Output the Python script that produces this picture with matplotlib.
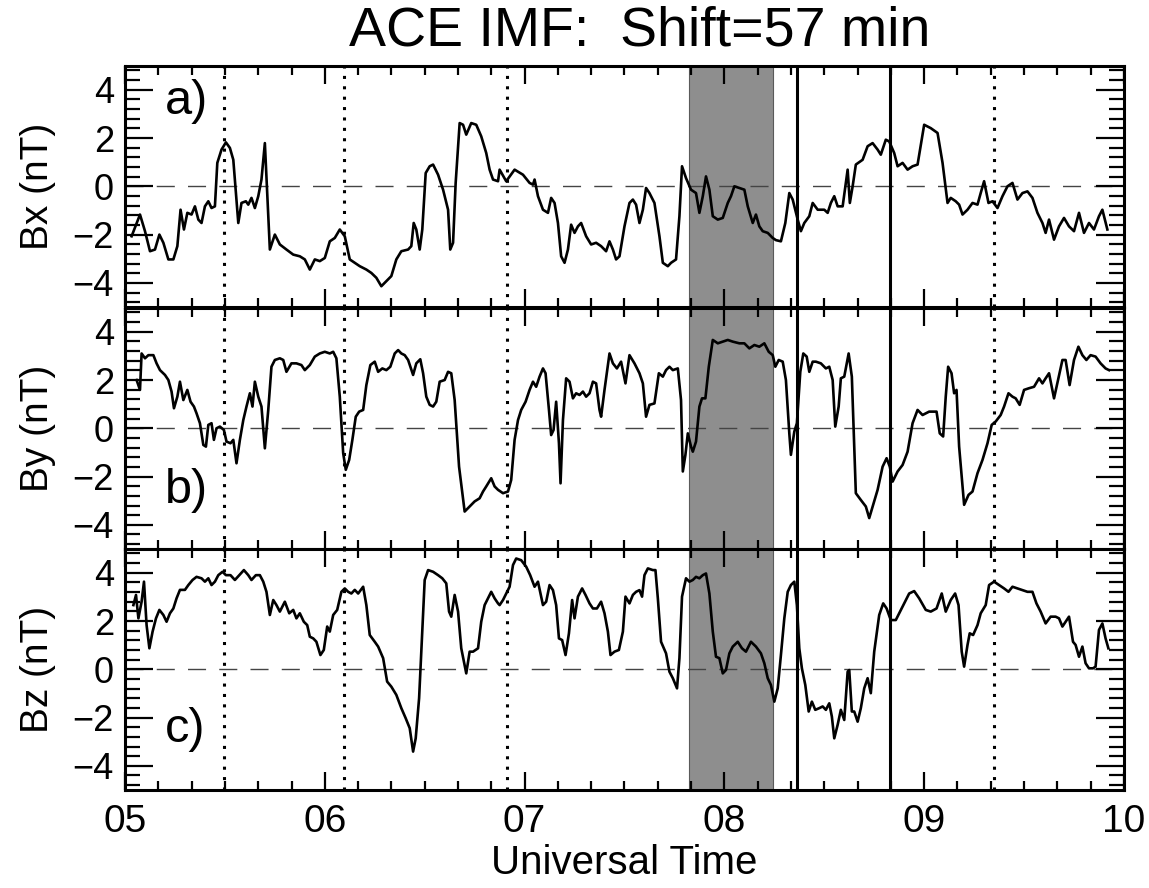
import numpy as np
import matplotlib
matplotlib.use('Agg')
import matplotlib.pyplot as plt
from matplotlib.ticker import MultipleLocator, AutoMinorLocator, FuncFormatter

plt.rcParams['font.family'] = ['Liberation Sans', 'DejaVu Sans']

# times are in hours UT, field values in nT
bx_time = [5.033, 5.075, 5.100, 5.125, 5.150, 5.172, 5.192, 5.217, 5.242, 5.262, 5.278, 5.295, 5.312, 5.333, 5.350,
           5.367, 5.383, 5.400, 5.417, 5.433, 5.450, 5.462, 5.483, 5.505, 5.525, 5.542, 5.567, 5.583, 5.605, 5.617,
           5.633, 5.650, 5.667, 5.683, 5.700, 5.725, 5.750, 5.775, 5.808, 5.842, 5.875, 5.900, 5.925, 5.950, 5.975,
           6.000, 6.025, 6.050, 6.075, 6.100, 6.125, 6.150, 6.175, 6.208, 6.233, 6.258, 6.283, 6.308, 6.333, 6.358,
           6.383, 6.417, 6.433, 6.445, 6.458, 6.475, 6.488, 6.505, 6.525, 6.542, 6.567, 6.592, 6.617, 6.628, 6.642,
           6.655, 6.675, 6.692, 6.708, 6.733, 6.758, 6.783, 6.808, 6.825, 6.842, 6.867,
           6.875, 6.908, 6.950, 6.992, 7.025, 7.042, 7.050, 7.067, 7.092, 7.117, 7.133, 7.150, 7.167, 7.183, 7.200,
           7.217, 7.233, 7.250, 7.267, 7.283, 7.308, 7.333, 7.358, 7.383, 7.408, 7.425, 7.442, 7.458, 7.475, 7.500,
           7.525, 7.542, 7.558, 7.575, 7.592, 7.608, 7.625, 7.650, 7.675, 7.692, 7.717, 7.733, 7.758, 7.775, 7.788,
           7.808, 7.833, 7.858, 7.875, 7.892, 7.908, 7.925, 7.942, 7.967, 7.992, 8.017, 8.033, 8.050, 8.075, 8.100,
           8.117, 8.142, 8.158, 8.175, 8.192, 8.217, 8.242, 8.258, 8.283, 8.305, 8.325, 8.342, 8.367, 8.383, 8.400,
           8.425, 8.442, 8.467, 8.500, 8.517, 8.533, 8.550, 8.567, 8.592, 8.617, 8.628, 8.642, 8.658, 8.692, 8.717,
           8.742, 8.767, 8.783, 8.808, 8.825, 8.850, 8.867,
           8.892, 8.917, 8.942, 8.967, 9.000, 9.033, 9.067, 9.092, 9.117, 9.133, 9.158, 9.175, 9.192, 9.217, 9.242,
           9.267, 9.283, 9.300, 9.322, 9.342, 9.367, 9.392, 9.417, 9.442, 9.467, 9.492, 9.517, 9.542, 9.567, 9.592,
           9.608, 9.625, 9.650, 9.675, 9.700, 9.725, 9.750, 9.775, 9.800, 9.825, 9.850, 9.875, 9.892, 9.917]
bx_vals = [-2.07, -1.17, -1.86, -2.69, -2.62, -2.00, -2.34, -3.03, -3.03, -2.48, -0.97, -1.79, -1.10, -1.17, -0.83,
           -1.38, -1.52, -0.83, -0.62, -0.90, -0.83, 0.97, 1.52, 1.82, 1.59, 1.10, -1.52, -0.69, -0.62, -0.76,
           -0.48, -0.90, -0.41, 0.28, 1.79, -2.62, -2.00, -2.41, -2.62, -2.83, -2.90, -3.03, -3.45, -3.03, -3.10,
           -2.97, -2.28, -2.14, -1.79, -2.07, -3.03, -3.17, -3.31, -3.45, -3.59, -3.79, -4.14, -3.93, -3.72, -3.03,
           -2.69, -2.62, -2.48, -1.52, -1.79, -2.62, -1.79, 0.55, 0.83, 0.90, 0.48, -0.14, -0.97, -2.62, -2.34,
           0.14, 2.62, 2.55, 2.14, 2.62, 2.55, 2.07, 1.38, 0.69, 0.28, 0.21,
           0.69, 0.21, 0.69, 0.48, 0.14, 0.07, 0.28, -0.41, -0.97, -1.10, -0.48, -0.69, -1.52, -2.90, -3.17,
           -2.62, -1.59, -1.93, -1.66, -1.52, -2.07, -2.41, -2.34, -2.48, -2.69, -2.28, -2.62, -3.03, -2.90, -1.66,
           -0.69, -0.55, -0.76, -1.52, -0.97, -0.07, -0.28, -0.69, -2.07, -3.17, -3.31, -3.17, -3.03, -1.24, 0.83,
           0.34, -0.14, -0.28, -1.10, -0.41, 0.41, -0.14, -1.24, -1.38, -1.31, -0.69, -0.41, 0.00, -0.07, -0.14,
           -0.83, -1.52, -1.17, -1.66, -1.86, -1.93, -2.14, -2.23, -2.28, -1.52, -0.28, -0.55, -1.38, -1.86, -1.52,
           -1.24, -0.69, -0.97, -0.97, -1.10, -0.69, -0.41, -0.83, -0.83, 0.69, -0.69, 0.00, 0.90, 1.10, 1.66,
           1.79, 1.52, 1.31, 1.93, 1.86, 1.38, 0.83,
           0.97, 0.69, 0.83, 0.90, 2.55, 2.41, 2.21, 0.97, -0.69, -0.48, -0.62, -0.76, -1.17, -0.97, -0.69,
           -0.76, -0.28, 0.21, -0.69, -0.62, -0.90, -0.41, 0.00, 0.14, -0.55, -0.28, -0.21, -0.48, -1.10, -1.52,
           -1.93, -1.38, -2.21, -1.66, -1.31, -1.66, -1.86, -1.10, -1.93, -1.52, -1.79, -1.24, -0.97, -1.79]

by_time = [5.058, 5.075, 5.083, 5.100, 5.117, 5.142, 5.158, 5.175, 5.200, 5.217, 5.233, 5.245, 5.262, 5.275, 5.292,
           5.312, 5.328, 5.345, 5.358, 5.375, 5.392, 5.405, 5.417, 5.433, 5.445, 5.458, 5.475, 5.495, 5.508, 5.528,
           5.542, 5.558, 5.575, 5.592, 5.608, 5.625, 5.638, 5.650, 5.667, 5.683, 5.700, 5.717, 5.733, 5.750, 5.775,
           5.792, 5.808, 5.833, 5.858, 5.883, 5.900, 5.925, 5.950, 5.975, 6.000, 6.025, 6.042, 6.058, 6.075, 6.092,
           6.105, 6.122, 6.138, 6.155, 6.172, 6.192, 6.208, 6.228, 6.250, 6.267, 6.288, 6.308, 6.328, 6.350, 6.367,
           6.383, 6.400, 6.417, 6.442, 6.458, 6.478, 6.492, 6.508, 6.525, 6.542, 6.558, 6.575, 6.600, 6.617, 6.633,
           6.650, 6.672, 6.700, 6.725, 6.750, 6.775, 6.792, 6.808, 6.833, 6.850, 6.867,
           6.892, 6.917, 6.933, 6.950, 6.967, 6.983, 7.005, 7.025, 7.042, 7.058, 7.075, 7.092, 7.105, 7.122, 7.133,
           7.145, 7.158, 7.172, 7.180, 7.192, 7.208, 7.225, 7.242, 7.258, 7.275, 7.292, 7.308, 7.325, 7.342, 7.358,
           7.375, 7.383, 7.400, 7.425, 7.442, 7.462, 7.483, 7.505, 7.525, 7.550, 7.575, 7.592, 7.608, 7.625, 7.650,
           7.672, 7.692, 7.708, 7.725, 7.742, 7.767, 7.783, 7.792, 7.805, 7.817, 7.833, 7.842, 7.858, 7.875, 7.888,
           7.905, 7.922, 7.942, 7.967, 7.992, 8.017, 8.042, 8.075, 8.100, 8.125, 8.150, 8.175, 8.200, 8.222, 8.242,
           8.255, 8.272, 8.292, 8.308, 8.325, 8.333, 8.350, 8.363, 8.380, 8.395, 8.412, 8.425, 8.442, 8.458, 8.483,
           8.508, 8.525, 8.542, 8.555, 8.572, 8.583, 8.600, 8.622, 8.638, 8.658, 8.683, 8.708, 8.725, 8.742, 8.767,
           8.792, 8.812, 8.828, 8.842, 8.867,
           8.892, 8.917, 8.942, 8.967, 8.992, 9.025, 9.062, 9.078, 9.095, 9.108, 9.120, 9.137, 9.150, 9.162, 9.175,
           9.200, 9.222, 9.242, 9.267, 9.292, 9.317, 9.338, 9.358, 9.383, 9.400, 9.422, 9.442, 9.458, 9.478, 9.500,
           9.525, 9.550, 9.575, 9.592, 9.608, 9.625, 9.650, 9.672, 9.692, 9.708, 9.728, 9.750, 9.772, 9.792, 9.812,
           9.833, 9.858, 9.883, 9.908, 9.925]
by_vals = [2.00, 1.59, 3.10, 2.90, 3.03, 3.03, 2.69, 2.41, 2.21, 2.00, 1.52, 0.83, 1.31, 1.93, 1.17,
           1.59, 1.10, 0.90, 0.62, 0.21, -0.69, -0.76, 0.14, 0.21, -0.48, 0.00, 0.07, -0.07, -0.55, -0.62,
           -0.48, -1.45, -0.48, 0.34, 0.90, 1.45, 0.90, 1.93, 1.31, 0.90, -0.83, 0.76, 2.55, 2.83, 2.90,
           2.83, 2.34, 2.69, 2.69, 2.62, 2.41, 2.62, 2.97, 3.10, 3.17, 3.10, 3.17, 2.90, 1.31, -1.03,
           -1.72, -1.31, -0.48, 0.48, 0.69, 0.76, 1.79, 2.62, 2.76, 2.34, 2.48, 2.41, 2.55, 3.10, 3.24,
           3.10, 3.03, 2.83, 2.21, 2.69, 2.86, 2.28, 1.31, 0.97, 0.90, 1.10, 1.93, 2.00, 2.34, 2.28,
           1.17, -1.59, -3.45, -3.24, -3.03, -2.90, -2.62, -2.41, -2.07, -2.41, -2.55,
           -2.69, -2.62, -2.14, -0.48, 0.34, 0.76, 1.10, 1.59, 1.93, 1.72, 2.14, 2.48, 2.28, 0.76, -0.28,
           -0.07, 1.10, -0.62, -2.28, 0.34, 2.07, 1.93, 1.24, 1.45, 1.38, 1.52, 1.31, 1.45, 1.93, 1.86,
           0.76, 0.48, 1.59, 3.10, 2.69, 2.48, 2.76, 1.86, 3.03, 2.69, 2.28, 1.86, 0.48, 0.97, 1.03,
           2.28, 2.14, 2.41, 2.55, 2.41, 2.48, 1.17, -1.79, -1.10, -0.21, -0.76, -0.97, -0.55, 0.90, 1.24,
           1.24, 2.55, 3.66, 3.52, 3.59, 3.66, 3.59, 3.52, 3.52, 3.31, 3.45, 3.38, 3.52, 3.17, 3.03,
           2.55, 2.83, 2.76, 2.00, -0.21, -1.10, -0.14, 0.21, 2.34, 3.10, 2.97, 2.34, 2.76, 2.76, 2.69,
           2.48, 2.55, 2.00, 0.07, 0.90, 2.07, 2.14, 3.10, 2.14, -2.69, -2.97, -3.24, -3.72, -3.24, -2.55,
           -1.59, -1.24, -1.59, -2.21, -1.79,
           -1.52, -0.97, 0.21, 0.76, 0.55, 0.69, 0.69, -0.21, -0.34, 1.31, 2.55, 2.28, 1.45, 1.59, -0.76,
           -3.17, -2.76, -2.62, -1.86, -1.31, -0.62, 0.14, 0.28, 0.55, 0.90, 1.45, 1.31, 1.24, 0.97, 1.59,
           1.66, 1.72, 2.07, 1.86, 2.07, 2.28, 1.24, 2.07, 2.83, 2.83, 1.79, 2.83, 3.38, 3.03, 2.83,
           3.03, 2.97, 2.69, 2.48, 2.41]

bz_time = [5.042, 5.055, 5.067, 5.083, 5.095, 5.108, 5.122, 5.138, 5.155, 5.172, 5.192, 5.208, 5.225, 5.242, 5.258,
           5.275, 5.300, 5.317, 5.338, 5.358, 5.383, 5.400, 5.417, 5.433, 5.450, 5.467, 5.488, 5.505, 5.528, 5.550,
           5.572, 5.595, 5.617, 5.633, 5.655, 5.675, 5.692, 5.708, 5.725, 5.742, 5.758, 5.775, 5.800, 5.822, 5.842,
           5.858, 5.875, 5.895, 5.912, 5.925, 5.942, 5.958, 5.978, 5.995, 6.012, 6.025, 6.042, 6.062, 6.083, 6.100,
           6.117, 6.133, 6.150, 6.167, 6.192, 6.208, 6.225, 6.250, 6.267, 6.292, 6.312, 6.333, 6.358, 6.383, 6.405,
           6.425, 6.442, 6.455, 6.472, 6.488, 6.500, 6.517, 6.542, 6.567, 6.588, 6.608, 6.622, 6.633, 6.650, 6.667,
           6.683, 6.708, 6.725, 6.742, 6.767, 6.783, 6.800, 6.817, 6.833, 6.850, 6.867,
           6.875, 6.892, 6.908, 6.925, 6.942, 6.958, 6.983, 7.008, 7.028, 7.050, 7.067, 7.092, 7.108, 7.125, 7.142,
           7.158, 7.172, 7.188, 7.205, 7.222, 7.238, 7.250, 7.267, 7.288, 7.305, 7.325, 7.342, 7.362, 7.383, 7.400,
           7.417, 7.430, 7.450, 7.472, 7.492, 7.505, 7.525, 7.542, 7.558, 7.575, 7.588, 7.600, 7.617, 7.642, 7.655,
           7.667, 7.683, 7.708, 7.725, 7.742, 7.763, 7.775, 7.788, 7.808, 7.825, 7.842, 7.858, 7.875, 7.892, 7.908,
           7.925, 7.942, 7.958, 7.975, 7.992, 8.008, 8.025, 8.042, 8.067, 8.088, 8.108, 8.133, 8.158, 8.183, 8.200,
           8.217, 8.233, 8.250, 8.267, 8.283, 8.300, 8.317, 8.333, 8.350, 8.363, 8.375, 8.388, 8.405, 8.422, 8.438,
           8.455, 8.475, 8.492, 8.508, 8.525, 8.538, 8.550, 8.567, 8.583, 8.600, 8.617, 8.625, 8.638, 8.650, 8.667,
           8.683, 8.700, 8.717, 8.733, 8.750, 8.775, 8.795, 8.812, 8.833, 8.858,
           8.900, 8.925, 8.950, 8.975, 9.008, 9.033, 9.062, 9.088, 9.108, 9.133, 9.155, 9.172, 9.188, 9.200, 9.217,
           9.228, 9.245, 9.267, 9.283, 9.308, 9.325, 9.350, 9.375, 9.400, 9.422, 9.442, 9.467, 9.492, 9.517, 9.542,
           9.562, 9.583, 9.608, 9.633, 9.658, 9.675, 9.692, 9.708, 9.725, 9.745, 9.758, 9.775, 9.792, 9.808, 9.825,
           9.845, 9.858, 9.875, 9.892, 9.908, 9.922]
bz_vals = [2.66, 3.08, 2.11, 2.80, 3.63, 1.83, 0.87, 1.56, 2.11, 2.46, 2.25, 1.97, 2.32, 2.52, 2.94,
           3.29, 3.29, 3.49, 3.70, 3.83, 3.77, 3.63, 3.77, 3.49, 3.63, 3.90, 4.04, 3.90, 3.90, 3.70,
           3.90, 4.11, 3.90, 3.70, 3.90, 3.90, 3.63, 3.21, 2.25, 2.87, 2.66, 2.39, 2.80, 2.32, 2.46,
           2.11, 2.32, 1.97, 1.83, 1.35, 1.28, 1.14, 0.59, 0.80, 1.77, 1.56, 2.25, 2.46, 3.21, 3.35,
           3.21, 3.14, 3.29, 3.14, 3.42, 2.66, 1.42, 1.14, 0.94, 0.46, -0.51, -0.72, -1.06, -1.61, -2.03,
           -2.44, -3.41, -2.86, -1.20, 1.56, 3.70, 4.11, 4.04, 3.90, 3.77, 3.56, 2.39, 2.18, 3.08, 2.39,
           0.87, -0.17, 0.73, 0.73, 0.87, 1.97, 2.66, 2.94, 3.21, 2.94, 2.73,
           2.66, 2.87, 3.14, 3.42, 4.32, 4.59, 4.52, 4.25, 3.90, 3.42, 3.63, 2.66, 2.80, 3.49, 3.28,
           2.66, 1.28, 1.21, 0.59, 1.49, 2.87, 2.11, 3.01, 3.35, 3.08, 2.73, 2.52, 2.52, 2.80, 2.32,
           1.56, 0.59, 0.73, 0.80, 1.56, 3.01, 2.73, 3.08, 3.21, 3.28, 3.01, 3.90, 4.18, 4.11, 4.11,
           2.94, 1.14, 0.66, -0.10, -0.37, -0.79, 0.46, 3.01, 3.77, 3.63, 3.70, 3.83, 3.77, 3.90, 3.97,
           3.14, 1.56, 0.52, 0.46, -0.17, -0.03, 0.66, 0.94, 1.14, 0.87, 0.73, 1.14, 0.94, 0.66, 0.25,
           -0.37, -0.65, -1.34, -0.79, 0.59, 2.11, 3.21, 3.49, 3.63, 2.66, 0.87, 0.04, -0.65, -1.75, -1.34,
           -1.68, -1.61, -1.54, -1.68, -1.41, -1.96, -2.86, -2.30, -1.68, -2.10, -0.10, -0.03, -1.75, -1.75, -2.17,
           -1.61, -0.79, -0.37, -0.99, 0.73, 2.25, 2.73, 2.52, 2.04, 2.04,
           2.73, 3.14, 3.24, 2.94, 2.46, 2.39, 2.52, 3.14, 2.39, 2.87, 3.14, 2.66, 0.73, 0.11, 1.01,
           1.49, 1.42, 1.83, 2.32, 2.66, 3.49, 3.63, 3.49, 3.35, 3.21, 3.42, 3.35, 3.28, 3.21, 3.21,
           2.73, 2.39, 1.90, 2.18, 2.18, 2.11, 1.77, 1.97, 2.18, 1.14, 1.01, 0.52, 0.94, 0.25, 0.04,
           0.04, 0.11, 1.63, 1.90, 1.28, 0.87]

# event markers
dotted_times = [5.495, 6.095, 6.912, 9.35]
solid_times = [8.363, 8.827]
shade_start = 7.825
shade_end = 8.245

panel_names = ['Bx (nT)', 'By (nT)', 'Bz (nT)']
panel_tags = ['a)', 'b)', 'c)']
tag_y = [3.0, -3.1, -3.0]
hour_labels = ['05', '06', '07', '08', '09', '10']


def hourFormat(x, pos):
    # hours shown as two digits like 05
    return '%02d' % int(round(x))


def makePanel(fig, rect, t, v, name, tag, ty, bottom):
    ax = fig.add_axes(rect)
    ax.axvspan(shade_start, shade_end, facecolor='#8e8e8e', edgecolor='#5a5a5a', linewidth=0.8, zorder=0)
    ax.axhline(0, color='#444444', linewidth=1.0, dashes=(13, 9.5), zorder=1)
    for d in dotted_times:
        ax.axvline(d, color='black', linewidth=2.2, linestyle=(0, (1, 2.4)), zorder=2)
    for s in solid_times:
        ax.axvline(s, color='black', linewidth=2.2, zorder=2)
    ax.plot(t, v, color='black', linewidth=1.9, zorder=3)
    ax.set_xlim(5, 10)
    ax.set_ylim(-5, 5)
    ax.xaxis.set_major_locator(MultipleLocator(1))
    ax.xaxis.set_minor_locator(AutoMinorLocator(6))
    ax.yaxis.set_major_locator(MultipleLocator(2))
    ax.yaxis.set_minor_locator(AutoMinorLocator(5))
    ax.tick_params(which='both', direction='in', top=True, right=True, width=1.6)
    ax.tick_params(axis='x', which='major', length=13, pad=10, labelsize=28)
    ax.tick_params(axis='x', which='minor', length=6.5)
    ax.tick_params(axis='y', which='major', length=20, pad=8, labelsize=26)
    ax.tick_params(axis='y', which='minor', length=11)
    for sp in ax.spines.values():
        sp.set_linewidth(2.2)
        sp.set_zorder(5)
    ax.set_ylabel(name, fontsize=28, labelpad=12)
    ax.text(5.2, ty, tag, fontsize=35, ha='left', va='baseline')
    if bottom:
        ax.xaxis.set_major_formatter(FuncFormatter(hourFormat))
        ax.set_xlabel('Universal Time', fontsize=29, labelpad=3)
    else:
        ax.set_xticklabels([])
    return ax


def main():
    fig = plt.figure(figsize=(11.49, 8.88), dpi=100)
    left = 0.1088
    width = 0.8694
    height = 0.2718
    bottoms = [0.6543, 0.3818, 0.1104]
    series = [(bx_time, bx_vals), (by_time, by_vals), (bz_time, bz_vals)]
    for i in range(3):
        t, v = series[i]
        makePanel(fig, [left, bottoms[i], width, height], t, v,
                  panel_names[i], panel_tags[i], tag_y[i], i == 2)
    fig.text(0.557, 0.965, 'ACE IMF:  Shift=57 min', fontsize=40, ha='center', va='center')
    fig.savefig('out.png', dpi=100)


if __name__ == '__main__':
    main()
